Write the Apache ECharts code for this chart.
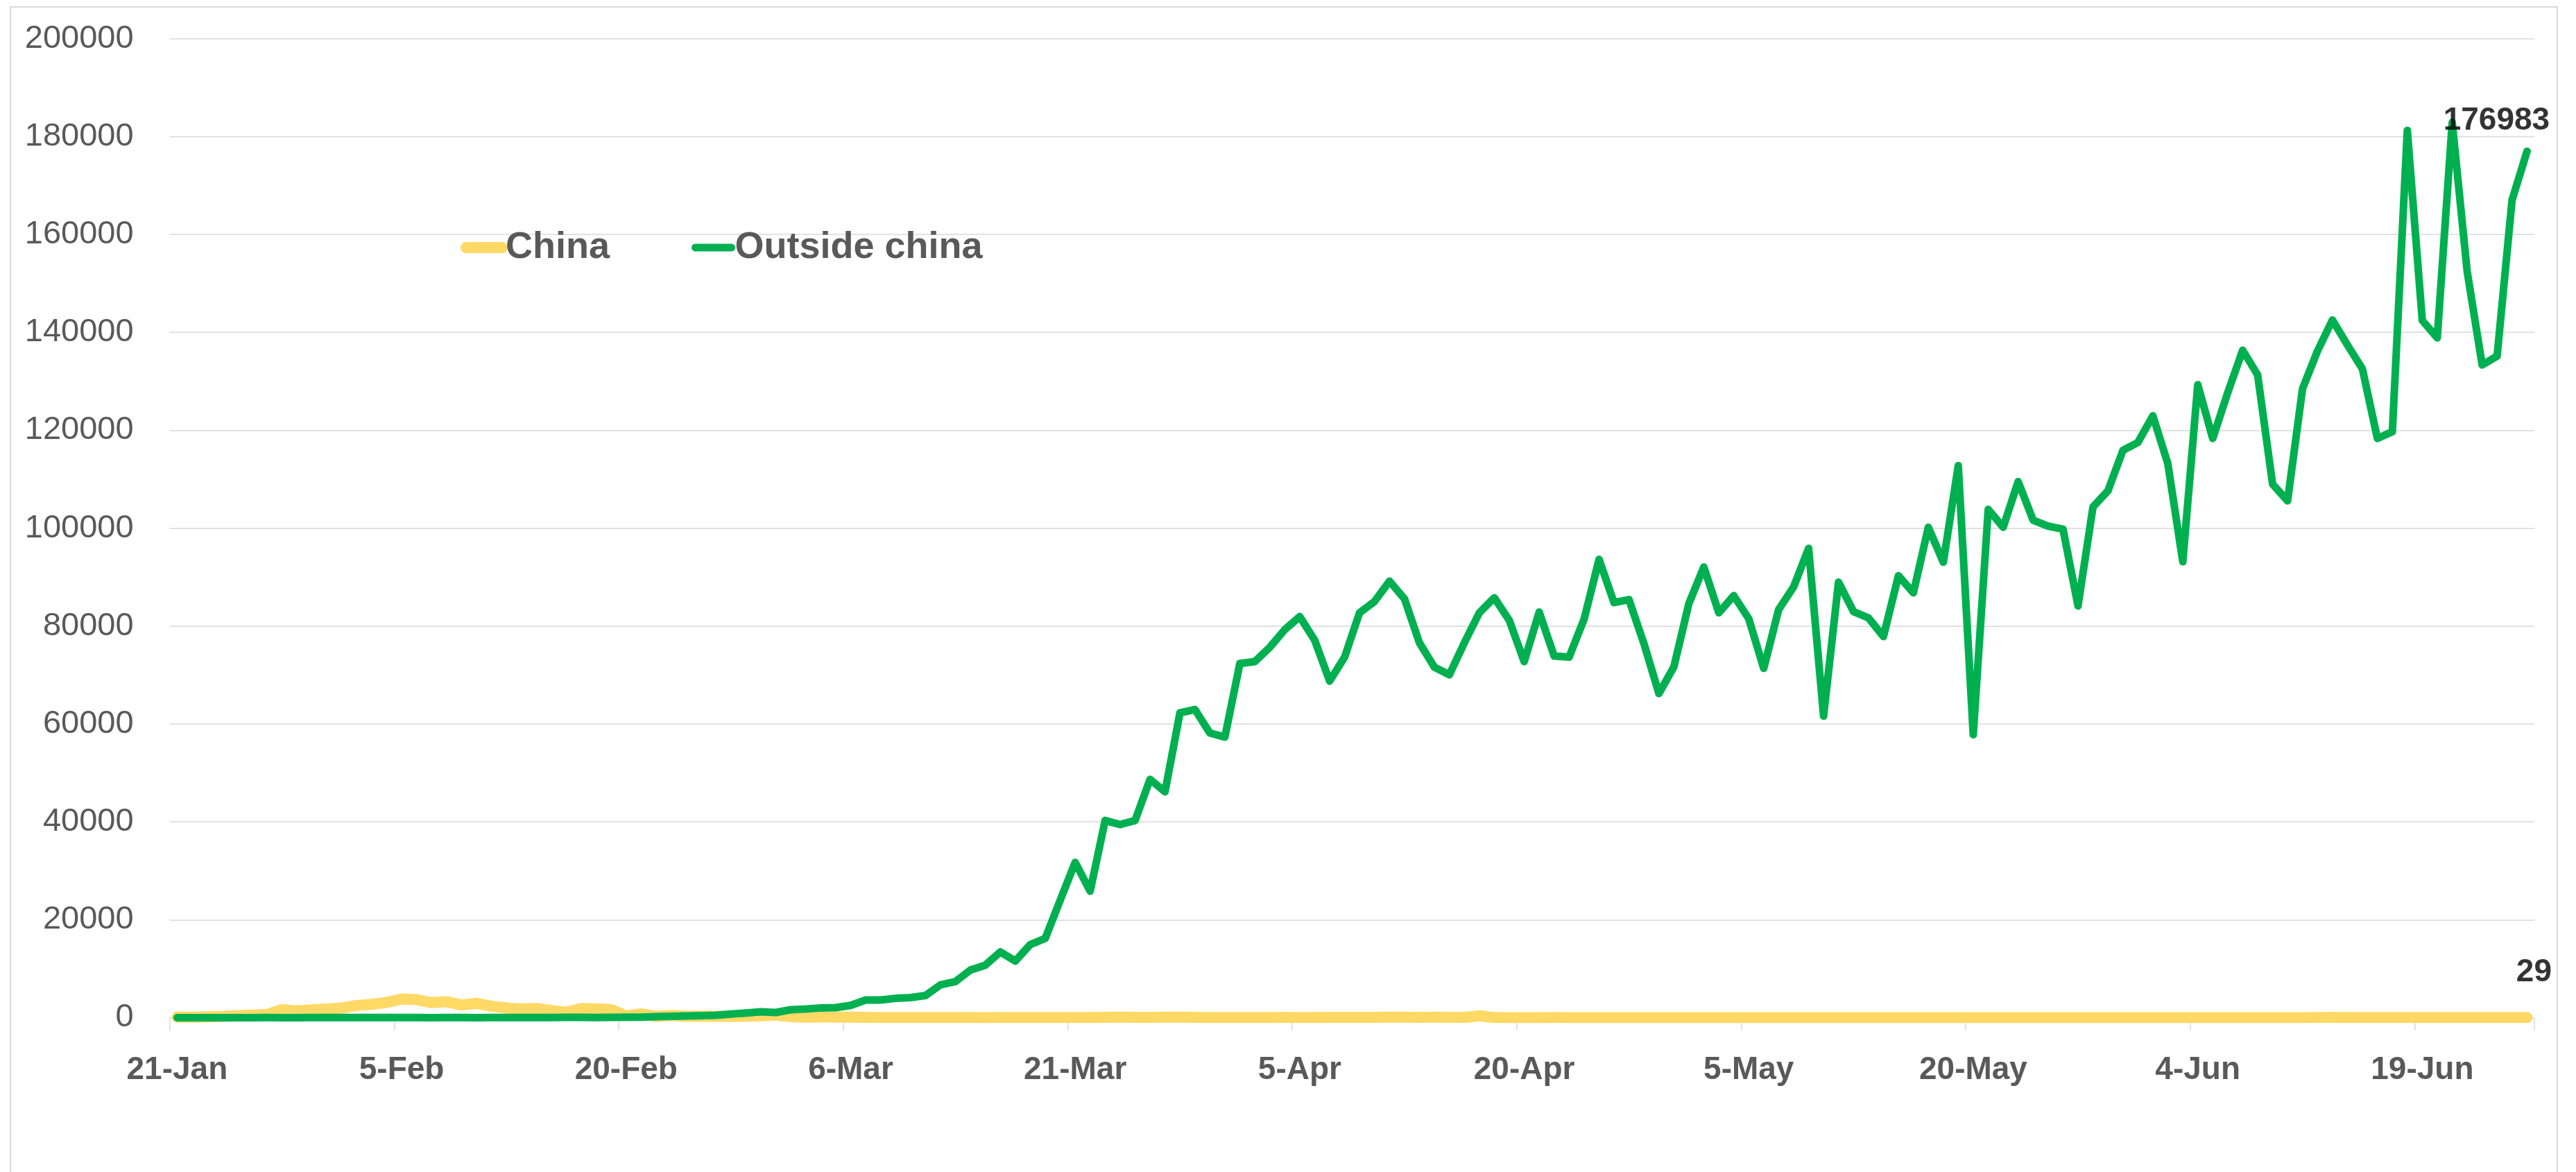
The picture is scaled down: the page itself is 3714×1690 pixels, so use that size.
<!DOCTYPE html>
<html>
<head>
<meta charset="utf-8">
<script src="https://cdn.jsdelivr.net/npm/echarts@6/dist/echarts.min.js"></script>
<style>
  html, body { margin: 0; padding: 0; background: #ffffff; }
  #chart { width: 3714px; height: 1690px; }
</style>
</head>
<body>
<div id="chart"></div>
<script>
// Daily new confirmed cases, 21 Jan – 26 Jun 2020
const firstDay = { year: 2020, month: 0, day: 21 };
const dayCount = 158;
const monthNames = ['Jan', 'Feb', 'Mar', 'Apr', 'May', 'Jun', 'Jul', 'Aug', 'Sep', 'Oct', 'Nov', 'Dec'];

const categories = [];
for (let i = 0; i < dayCount; i++) {
  const d = new Date(Date.UTC(firstDay.year, firstDay.month, firstDay.day + i));
  categories.push(d.getUTCDate() + '-' + monthNames[d.getUTCMonth()]);
}

const seriesNames = ['China', 'Outside china'];

const chinaCases = [
  150, 100, 180, 240, 380, 520, 660, 1650, 1370, 1600,
  1790, 1980, 2500, 2740, 3110, 3820, 3680, 3070, 3260, 2600,
  2930, 2360, 1980, 1790, 1890, 1460, 1090, 1890, 1790, 1650,
  380, 800, 280, 470, 280, 330, 280, 240, 310, 400,
  520, 200, 120, 140, 150, 100, 60, 45, 40, 20,
  25, 30, 25, 20, 15, 20, 25, 45, 40, 45,
  50, 45, 80, 100, 80, 60, 90, 110, 60, 50,
  50, 45, 35, 40, 60, 30, 40, 80, 70, 60,
  80, 100, 110, 70, 90, 60, 30, 380, 20, 15,
  12, 15, 20, 12, 10, 10, 8, 6, 4, 3,
  2, 2, 3, 4, 2, 3, 1, 4, 3, 2,
  5, 15, 10, 8, 3, 7, 6, 8, 5, 12,
  4, 6, 3, 10, 5, 3, 11, 4, 2, 5,
  6, 3, 8, 5, 7, 6, 5, 3, 5, 4,
  8, 11, 17, 49, 58, 40, 44, 28, 32, 27,
  30, 25, 30, 22, 19, 22, 21, 29
];

const outsideChinaCases = [
  4, 3, 5, 9, 12, 10, 19, 12, 10, 21,
  20, 22, 19, 27, 28, 40, 24, 15, 32, 25,
  12, 28, 20, 44, 30, 45, 55, 85, 45, 70,
  100, 120, 200, 300, 350, 420, 500, 730, 970, 1200,
  1060, 1630, 1770, 2000, 2050, 2520, 3610, 3610, 3950, 4110,
  4530, 6710, 7380, 9740, 10740, 13430, 11580, 14940, 16200, 24000,
  31730, 25850, 40290, 39450, 40290, 48680, 46160, 62280, 62950, 58160,
  57320, 72350, 72740, 75660, 79260, 81950, 77110, 68750, 73660, 82720,
  85020, 89170, 85560, 76580, 71590, 70050, 76580, 82720, 85790, 81180,
  72740, 82870, 73890, 73660, 81410, 93620, 84790, 85400, 76400, 66220,
  71680, 84590, 92060, 82730, 86220, 81510, 71360, 83380, 88000, 95880,
  61620, 88980, 82970, 81670, 77860, 90280, 86790, 100180, 93040, 112760,
  57810, 103830, 100180, 109510, 101640, 100420, 99770, 84110, 104340, 107630,
  115890, 117510, 122950, 113210, 93150, 129290, 118330, 127660, 136350, 131320,
  108990, 105580, 128480, 136190, 142520, 137410, 132540, 118330, 119710, 181260,
  142440, 138870, 182880, 152430, 133350, 135130, 167050, 176983
];

const yMin = 0;
const yMax = 200000;
const yStep = 20000;
const labelEvery = 15;

const seriesColors = ['#FFD966', '#00B050'];
const lineWidths = [16, 11];
const textGray = '#595959';
const gridGray = '#D9D9D9';
const fontFamily = "'Liberation Sans', Arial, sans-serif";

const lastIdx = categories.length - 1;

const chart = echarts.init(document.getElementById('chart'), null, { renderer: 'canvas' });

chart.setOption({
  animation: false,
  backgroundColor: '#ffffff',
  graphic: [{
    type: 'rect',
    shape: { x: 15, y: 10, width: 3672, height: 1720 },
    style: { fill: 'none', stroke: gridGray, lineWidth: 2 },
    silent: true,
    z: -1
  }],
  grid: { left: 244.6, right: 59.8, top: 55.7, bottom: 222.5, containLabel: false },
  legend: {
    data: seriesNames.map((name, i) => ({
      name: name,
      lineStyle: { width: lineWidths[i], cap: 'round', color: seriesColors[i] }
    })),
    left: 664,
    top: 327,
    padding: 0,
    itemWidth: 52,
    itemHeight: 18,
    itemGap: 118,
    itemStyle: { opacity: 0 },
    selectedMode: false,
    textStyle: {
      color: textGray,
      fontSize: 54,
      fontWeight: 'bold',
      fontFamily: fontFamily,
      lineHeight: 60
    }
  },
  xAxis: {
    type: 'category',
    data: categories,
    boundaryGap: true,
    axisLine: { show: true, lineStyle: { color: gridGray, width: 1.5 } },
    axisTick: {
      show: true,
      interval: labelEvery - 1,
      alignWithLabel: false,
      length: 18,
      lineStyle: { color: gridGray, width: 1.5 }
    },
    axisLabel: {
      interval: labelEvery - 1,
      margin: 53,
      color: textGray,
      fontSize: 46,
      fontWeight: 'bold',
      fontFamily: fontFamily
    },
    splitLine: { show: false }
  },
  yAxis: {
    type: 'value',
    min: yMin,
    max: yMax,
    interval: yStep,
    axisLine: { show: false },
    axisTick: { show: false },
    axisLabel: {
      margin: 52,
      color: textGray,
      fontSize: 47,
      fontFamily: fontFamily,
      formatter: v => String(v)
    },
    splitLine: { show: true, lineStyle: { color: gridGray, width: 1.5 } }
  },
  series: [
    {
      name: seriesNames[0],
      type: 'line',
      data: chinaCases,
      symbol: 'none',
      color: seriesColors[0],
      lineStyle: { color: seriesColors[0], width: lineWidths[0], cap: 'round', join: 'round' },
      z: 2
    },
    {
      name: seriesNames[1],
      type: 'line',
      data: outsideChinaCases,
      symbol: 'none',
      color: seriesColors[1],
      lineStyle: { color: seriesColors[1], width: lineWidths[1], cap: 'round', join: 'round' },
      z: 3
    },
    {
      // value labels on the final day of each series
      name: 'last values',
      type: 'scatter',
      symbolSize: 1,
      itemStyle: { color: 'rgba(0,0,0,0)' },
      silent: true,
      z: 5,
      label: {
        show: true,
        position: 'inside',
        color: '#000000',
        fontSize: 46,
        fontWeight: 'bold',
        fontFamily: fontFamily,
        formatter: p => String(p.value[1])
      },
      data: [
        { value: [lastIdx, outsideChinaCases[lastIdx]], label: { offset: [-44, -44] } },
        { value: [lastIdx, chinaCases[lastIdx]], label: { offset: [10, -65] } }
      ]
    }
  ]
});
</script>
</body>
</html>
